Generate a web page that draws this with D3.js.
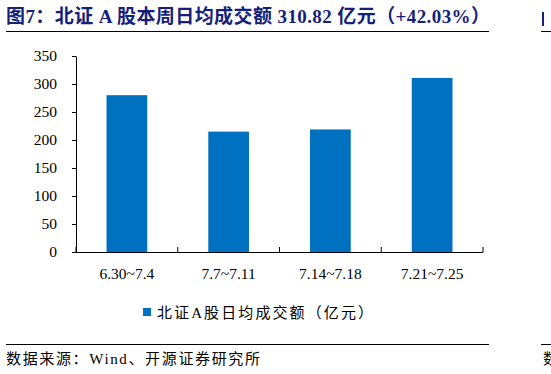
<!DOCTYPE html>
<head>
<meta charset="utf-8">
<script src="https://cdnjs.cloudflare.com/ajax/libs/d3/7.8.5/d3.min.js"></script>
<style>
    body { margin: 0; background: #fff; }
    svg text { font-family: "Liberation Serif", "Noto Sans CJK SC", serif; fill: #000; }
    .title { font-weight: bold; fill: #14217a; }
</style>
</head>
<body>
<svg id="chart" width="551" height="374"></svg>
<script>
    var categories = ["6.30~7.4", "7.7~7.11", "7.14~7.18", "7.21~7.25"];
    var values = [280, 215, 218.84, 310.82];
    var yTicks = [0, 50, 100, 150, 200, 250, 300, 350];
    var seriesName = "北证A股日均成交额（亿元）";

    var svg = d3.select("#chart");
    var plotLeft = 76, plotRight = 483, plotTop = 56, plotBottom = 252;

    var x = d3.scaleBand()
        .domain(categories)
        .range([plotLeft, plotRight])
        .paddingInner(0.6)
        .paddingOuter(0.3);

    var y = d3.scaleLinear()
        .domain([0, 350])
        .range([plotBottom, plotTop]);

    // title
    svg.append("text")
        .attr("class", "title")
        .attr("x", 6)
        .attr("y", 23)
        .attr("textLength", 484)
        .style("font-size", "19px")
        .text("图7：北证 A 股本周日均成交额 310.82 亿元（+42.03%）");
    svg.append("line").attr("x1", 6).attr("x2", 489).attr("y1", 31.5).attr("y2", 31.5)
        .attr("stroke", "#000").attr("stroke-width", 1);
    // fragment of next panel
    svg.append("rect").attr("x", 542).attr("y", 12).attr("width", 2).attr("height", 14).attr("fill", "#14217a");
    svg.append("line").attr("x1", 541).attr("x2", 551).attr("y1", 31.5).attr("y2", 31.5)
        .attr("stroke", "#000").attr("stroke-width", 1);

    // bars
    svg.selectAll("rect.bar")
        .data(values)
        .enter().append("rect")
        .attr("class", "bar")
        .attr("x", function(d, i) { return x(categories[i]); })
        .attr("width", x.bandwidth())
        .attr("y", function(d) { return y(d); })
        .attr("height", function(d) { return plotBottom - y(d); })
        .attr("fill", "#0070c0");

    // y axis
    var yAxis = svg.append("g")
        .attr("transform", "translate(" + plotLeft + ",0)")
        .call(d3.axisLeft(y).tickValues(yTicks).tickSize(4).tickSizeOuter(0));
    yAxis.select(".domain").attr("stroke", "#000");
    yAxis.selectAll("line").attr("stroke", "#000");
    yAxis.selectAll("text").style("font-size", "15.5px").style("font-family", "Liberation Serif")
        .attr("x", -19).attr("fill", "#000");

    // x axis
    var xAxis = svg.append("g")
        .attr("transform", "translate(0," + plotBottom + ")");
    xAxis.append("line").attr("x1", plotLeft).attr("x2", plotRight).attr("y1", 0.5).attr("y2", 0.5)
        .attr("stroke", "#000");
    var edges = categories.map(function(c) { return x(c) - x.step() * x.paddingInner() / 2; });
    edges.push(plotRight);
    edges[0] = plotLeft;
    xAxis.selectAll("line.tk")
        .data(edges)
        .enter().append("line")
        .attr("class", "tk")
        .attr("x1", function(d) { return d; })
        .attr("x2", function(d) { return d; })
        .attr("y1", 0).attr("y2", -5)
        .attr("stroke", "#000");
    xAxis.selectAll("text")
        .data(categories)
        .enter().append("text")
        .attr("x", function(d) { return x(d) + x.bandwidth() / 2; })
        .attr("y", 27)
        .attr("text-anchor", "middle")
        .style("font-size", "15.5px")
        .text(function(d) { return d; });

    // legend
    svg.append("rect").attr("x", 143).attr("y", 308).attr("width", 8).attr("height", 8).attr("fill", "#0070c0");
    svg.append("text").attr("x", 157).attr("y", 318)
        .attr("textLength", 216)
        .style("font-size", "15px")
        .text(seriesName);

    // bottom rule and source
    svg.append("line").attr("x1", 6).attr("x2", 489).attr("y1", 344.5).attr("y2", 344.5)
        .attr("stroke", "#000");
    svg.append("line").attr("x1", 541).attr("x2", 551).attr("y1", 344.5).attr("y2", 344.5)
        .attr("stroke", "#000");
    svg.append("text").attr("x", 6).attr("y", 364)
        .attr("textLength", 254)
        .style("font-size", "15px")
        .text("数据来源：Wind、开源证券研究所");
    svg.append("text").attr("x", 543).attr("y", 364)
        .style("font-size", "15px")
        .attr("fill", "#888")
        .text("数");
</script>
</body>
